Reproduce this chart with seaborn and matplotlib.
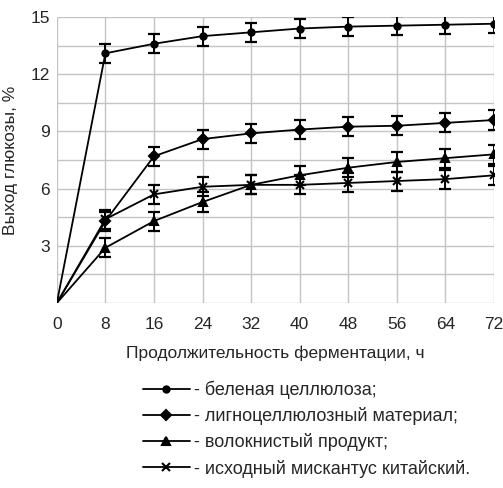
import numpy as np
import pandas as pd
import matplotlib
matplotlib.use("Agg")
import matplotlib.pyplot as plt
from matplotlib.lines import Line2D
from matplotlib.ticker import MultipleLocator
import seaborn as sns

hours = [0, 8, 16, 24, 32, 40, 48, 56, 64, 72]

# glucose yield, % (0 h point = origin)
bleached = [0, 13.1, 13.6, 14.0, 14.2, 14.4, 14.5, 14.55, 14.6, 14.65]
ligno = [0, 4.3, 7.7, 8.6, 8.9, 9.1, 9.25, 9.3, 9.45, 9.6]
fibrous = [0, 2.9, 4.3, 5.3, 6.2, 6.7, 7.1, 7.4, 7.6, 7.8]
miscanthus = [0, 4.4, 5.7, 6.1, 6.2, 6.2, 6.3, 6.4, 6.5, 6.7]
error = [0, 0.5, 0.5, 0.5, 0.5, 0.5, 0.5, 0.5, 0.5, 0.5]

labels = [
    "- беленая целлюлоза;",
    "- лигноцеллюлозный материал;",
    "- волокнистый продукт;",
    "- исходный мискантус китайский.",
]
markers = ["o", "D", "^", "x"]
marker_sizes = [4.5, 5, 6, 6]

sns.set_style("white")
plt.rcParams["font.family"] = ["Liberation Sans", "DejaVu Sans"]

series = [bleached, ligno, fibrous, miscanthus]
df = pd.concat(
    [pd.DataFrame({"t": hours, "y": s, "err": error, "name": lab})
     for s, lab in zip(series, labels)],
    ignore_index=True,
)

fig = plt.figure(figsize=(5.03, 4.88), dpi=100)
ax = fig.add_axes([0.113, 0.379, 0.869, 0.586])

for lab, mk, ms in zip(labels, markers, marker_sizes):
    d = df[df["name"] == lab]
    sns.lineplot(data=d, x="t", y="y", color="black", linewidth=1.3, ax=ax,
                 legend=False, zorder=3)
    dd = d[d["t"] > 0]
    ax.errorbar(dd["t"], dd["y"], yerr=dd["err"], fmt="none", ecolor="black",
                elinewidth=1.4, capsize=4.5, capthick=1.6, zorder=4)
    ax.plot(dd["t"], dd["y"], linestyle="none", marker=mk, markersize=ms,
            color="black", markeredgewidth=1.5, zorder=5)

ax.set_xlim(0, 72)
ax.set_ylim(0, 15)
ax.set_xticks(hours)
ax.set_yticks([3, 6, 9, 12, 15])
ax.yaxis.set_minor_locator(MultipleLocator(1.5))
ax.grid(True, which="both", color="#c4c4c4", linewidth=1.0)
ax.set_axisbelow(True)
for sp in ax.spines.values():
    sp.set_visible(False)
ax.tick_params(axis="y", which="both", length=0, labelsize=12.5, pad=5)
ax.tick_params(axis="x", which="both", length=0, labelsize=12.5, pad=10)
ax.set_xlabel("Продолжительность ферментации, ч", fontsize=12.5, labelpad=10)
ax.set_ylabel("Выход глюкозы, %", fontsize=12.5, labelpad=9)

handles = [Line2D([0], [0], color="black", linewidth=1.3, marker=mk,
                  markersize=ms, markeredgewidth=1.5)
           for mk, ms in zip(markers, marker_sizes)]
fig.legend(handles, labels, loc="upper left", bbox_to_anchor=(0.266, 0.238),
           frameon=False, fontsize=13, handlelength=2.6, handletextpad=0.25,
           labelspacing=0.45, borderpad=0)

fig.savefig("out.png", dpi=100)
